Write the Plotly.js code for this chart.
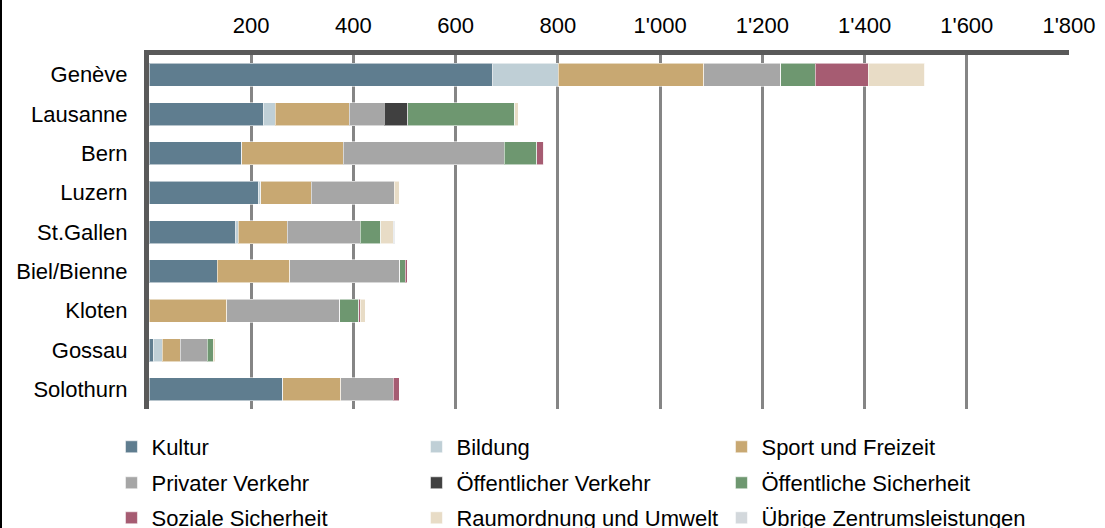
<!DOCTYPE html>
<html>
<head>
<meta charset="utf-8">
<script src="https://cdn.plot.ly/plotly-3.0.1.min.js"></script>
<style>
html,body{margin:0;padding:0;background:#fff;}
#wrap{position:relative;width:1105px;height:528px;overflow:hidden;}
#chart{width:1105px;height:528px;}
#edge{position:absolute;left:0;top:0;width:2px;height:528px;background:#000;}
</style>
</head>
<body>
<div id="wrap"><div id="chart"></div><div id="edge"></div></div>
<script>
const cities = ["Genève","Lausanne","Bern","Luzern","St.Gallen","Biel/Bienne","Kloten","Gossau","Solothurn"];
const kultur      = [673, 224, 181, 214, 170, 134,   0,  8, 262];
const bildung     = [128,  23,   0,   5,   5,   0,   0, 18,   0];
const sport       = [284, 145, 199,  98,  95, 141, 152, 35, 113];
const privVerkehr = [151,  68, 315, 163, 143, 216, 221, 53, 103];
const oeffVerkehr = [  0,  46,   0,   0,   0,   0,   0,  0,   0];
const oeffSicher  = [ 68, 210,  64,   0,  40,  10,  37, 12,   0];
const sozSicher   = [103,   0,  13,   0,   0,   4,   3,  0,  12];
const raumUmwelt  = [111,   6,   0,  10,  25,   0,  10,  4,   0];
const uebrige     = [  0,   0,   0,   0,   3,   0,   0,  0,   0];
const tickVals = [200, 400, 600, 800, 1000, 1200, 1400, 1600, 1800];
const tickText = ["200","400","600","800","1'000","1'200","1'400","1'600","1'800"];

const seriesNames = ["Kultur","Bildung","Sport und Freizeit","Privater Verkehr","Öffentlicher Verkehr","Öffentliche Sicherheit","Soziale Sicherheit","Raumordnung und Umwelt","Übrige Zentrumsleistungen"];
const seriesValues = [kultur, bildung, sport, privVerkehr, oeffVerkehr, oeffSicher, sozSicher, raumUmwelt, uebrige];
const colors = ["#5F7D8F","#BFCFD6","#C8A872","#A6A6A6","#404040","#6E9770","#A65C72","#E8DCC6","#D3D8DC"];
const legendIds = ["legend","legend","legend","legend2","legend2","legend2","legend3","legend3","legend3"];

const traces = seriesNames.map((n,i)=>({
  type:'bar', orientation:'h', name:n, y:cities, x:seriesValues[i],
  marker:{color:colors[i], line:{color:'rgba(255,255,255,0.55)', width:1}},
  legend:legendIds[i], hoverinfo:'x+name'
}));

const font = {family:'"Liberation Sans", Arial, sans-serif', size:22, color:'#000'};
const legBase = {orientation:'h', xanchor:'left', yanchor:'middle', xref:'paper', yref:'paper',
  x:-0.0408, entrywidth:260, entrywidthmode:'pixels', font:font, traceorder:'normal',
  bgcolor:'rgba(0,0,0,0)', borderwidth:0, itemclick:false};

const layout = {
  width:1105, height:528,
  margin:{l:149, r:36, t:55, b:119, autoexpand:false},
  paper_bgcolor:'#fff', plot_bgcolor:'#fff',
  font:font,
  barmode:'stack', bargap:0.415,
  xaxis:{side:'top', range:[0,1800], tickvals:tickVals, ticktext:tickText,
    showgrid:true, gridcolor:'#858585', gridwidth:3,
    showline:true, linecolor:'#595959', linewidth:5, mirror:false,
    ticks:'', ticklabelstandoff:8, zeroline:false, tickfont:font, fixedrange:true},
  yaxis:{autorange:'reversed', showline:true, linecolor:'#595959', linewidth:5,
    ticks:'', ticklabelstandoff:12, showgrid:false, tickfont:font, fixedrange:true},
  legend:Object.assign({}, legBase, {y:-0.1073}),
  legend2:Object.assign({}, legBase, {y:-0.209}),
  legend3:Object.assign({}, legBase, {y:-0.3079}),
  showlegend:true
};

Plotly.newPlot('chart', traces, layout, {displayModeBar:false, staticPlot:true});
</script>
</body>
</html>
